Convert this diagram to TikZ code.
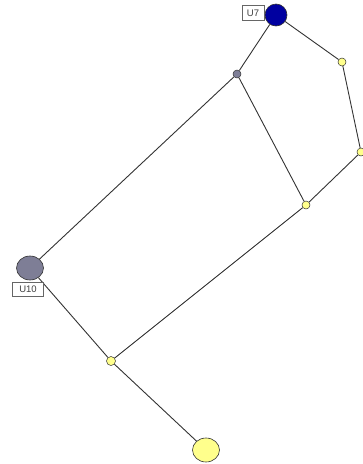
\documentclass[tikz,border=0pt]{standalone}
\usepackage{fontspec}
\setsansfont{Liberation Sans}
\usetikzlibrary{shapes.geometric}
\definecolor{nodeyellow}{HTML}{FFFF8C}
\definecolor{nodeblue}{HTML}{0000A0}
\definecolor{nodegray}{HTML}{7E7E96}
\definecolor{edgegray}{HTML}{333333}
\begin{document}
\begin{tikzpicture}[x=1pt,y=-1pt,
  edge/.style={draw=edgegray,line width=0.9pt},
  small/.style={circle,draw=edgegray,line width=0.5pt,fill=nodeyellow,minimum size=8pt,inner sep=0pt},
  big/.style={ellipse,draw=edgegray,line width=0.6pt,minimum width=27pt,minimum height=24pt,inner sep=0pt},
  tag/.style={draw=black!60,fill=white,line width=0.5pt,text=black!75,font=\sffamily\fontsize{9.5}{10}\selectfont,inner sep=1.5pt,minimum width=20pt,minimum height=14pt}]
\useasboundingbox (0,0) rectangle (363,464);
\node[big,minimum width=22pt,minimum height=22pt,fill=nodeblue] (u7) at (276,15) {};
\node[small,fill=nodegray,minimum size=8pt] (g) at (237,74) {};
\node[small] (a) at (342,62) {};
\node[small] (b) at (361,152) {};
\node[small] (c) at (306,205) {};
\node[big,minimum width=27pt,minimum height=24pt,fill=nodegray] (u10) at (30,268) {};
\node[small,minimum size=9pt] (d) at (111,361) {};
\node[big,fill=nodeyellow] (e) at (206,450) {};
\draw[edge] (u7) -- (g);
\draw[edge] (u7) -- (a);
\draw[edge] (a) -- (b);
\draw[edge] (b) -- (c);
\draw[edge] (g) -- (c);
\draw[edge] (g) -- (u10);
\draw[edge] (c) -- (d);
\draw[edge] (u10) -- (d);
\draw[edge] (d) -- (e);
\node[tag,minimum width=22pt,minimum height=15pt] (l7) at (253,13) {U7};
\node[tag,minimum width=31pt,minimum height=14pt] (l10) at (28,289) {U10};
\end{tikzpicture}
\end{document}
